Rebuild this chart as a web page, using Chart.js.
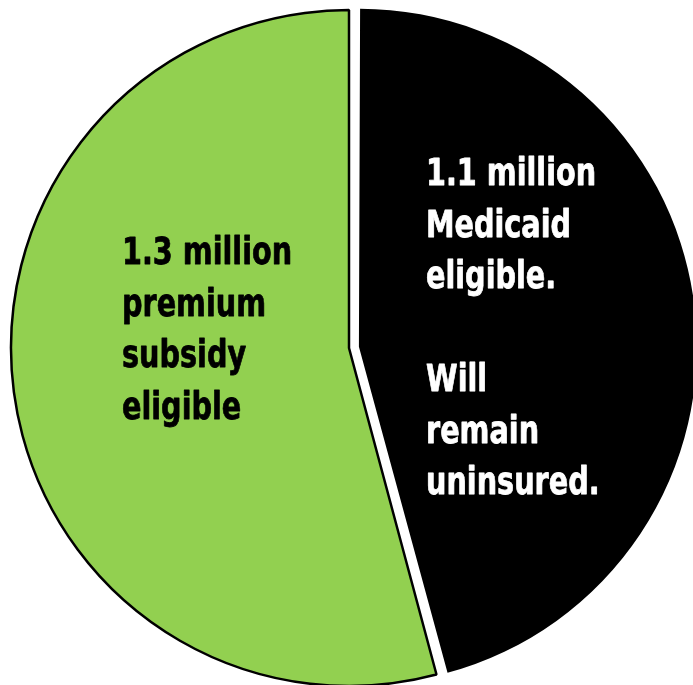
<!DOCTYPE html>
<html>
<head>
<meta charset="utf-8">
<script src="https://cdn.jsdelivr.net/npm/chart.js@4/dist/chart.umd.min.js"></script>
<style>
  html, body { margin: 0; padding: 0; background: #fff; overflow: hidden; }
  #wrap { width: 693px; height: 685px; position: relative; }
</style>
</head>
<body>
<div id="wrap"><canvas id="pie"></canvas></div>
<script>
// uninsured split, millions
const categories = ['Medicaid eligible', 'Premium subsidy eligible'];
const values = [1.1, 1.3];
const sliceLabels = [
  ['1.1 million', 'Medicaid', 'eligible.', '', 'Will', 'remain', 'uninsured.'],
  ['1.3 million', 'premium', 'subsidy', 'eligible']
];
const colors = ['#000000', '#92D050'];
const textColors = ['#ffffff', '#000000'];

const RADIUS = 338;
// first-line baseline of each text block, relative to the pie centre
const textPos = [
  { dx: 77, dy: -163 },
  { dx: -227, dy: -84 }
];
const LINE = 51.5;
const SQUEEZE = 0.775; // narrow the bold face horizontally

const labelPlugin = {
  id: 'sliceText',
  beforeDatasetsDraw(chart) {
    // an exploded arc grows a bit in chart.js; keep it at the same radius
    chart.getDatasetMeta(0).data.forEach(arc => {
      const off = (arc.options.offset || 0) / 4;
      const fix = 1 - Math.sin(Math.min(Math.PI, arc.circumference));
      arc.outerRadius = RADIUS - off * fix;
    });
  },
  afterDatasetsDraw(chart) {
    const {ctx} = chart;
    const meta = chart.getDatasetMeta(0);
    ctx.save();
    ctx.font = 'bold 37px "DejaVu Sans", sans-serif';
    ctx.textAlign = 'left';
    ctx.textBaseline = 'alphabetic';
    ctx.lineJoin = 'round';
    ctx.lineWidth = 0.8;
    meta.data.forEach((arc, i) => {
      const p = textPos[i];
      ctx.fillStyle = textColors[i];
      ctx.strokeStyle = textColors[i];
      sliceLabels[i].forEach((line, j) => {
        if (!line) return;
        const w = ctx.measureText(line).width * SQUEEZE;
        const x = arc.x + p.dx;
        const y = arc.y + p.dy + j * LINE;
        ctx.fillText(line, x, y, w);
        ctx.strokeText(line, x, y, w);
      });
    });
    ctx.restore();
  }
};

new Chart(document.getElementById('pie'), {
  type: 'pie',
  data: {
    labels: categories,
    datasets: [{
      data: values,
      backgroundColor: colors,
      borderColor: ['#000000', '#000000'],
      borderWidth: [0, 2.5],
      offset: [40, 0]
    }]
  },
  options: {
    responsive: true,
    maintainAspectRatio: false,
    animation: false,
    radius: RADIUS,
    layout: { padding: { left: 5, top: 11, right: 0, bottom: 0 } },
    plugins: {
      legend: { display: false },
      tooltip: { enabled: false }
    }
  },
  plugins: [labelPlugin]
});
</script>
</body>
</html>
